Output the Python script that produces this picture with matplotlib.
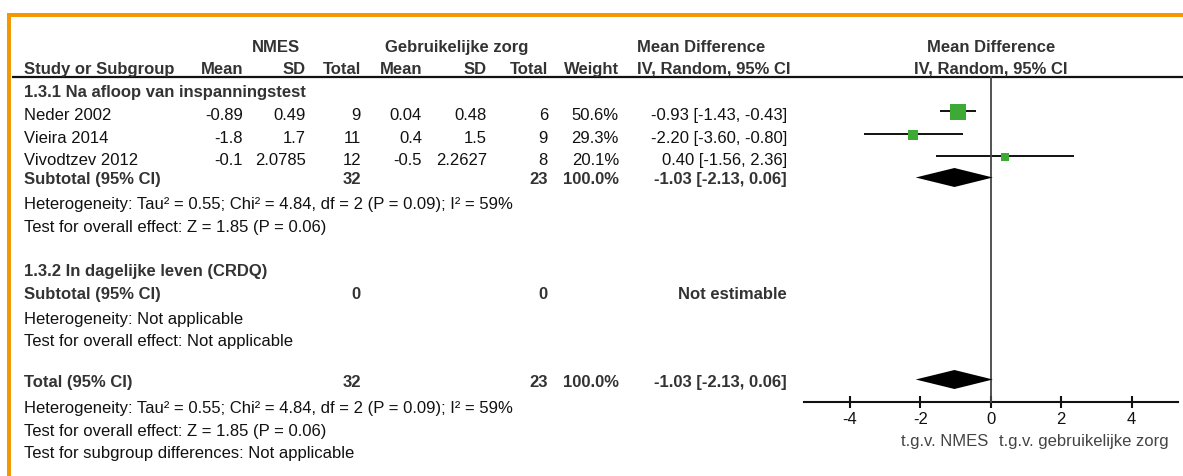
import matplotlib
matplotlib.use("Agg")
import matplotlib.pyplot as plt
from matplotlib.patches import Rectangle

plt.rcParams['font.family'] = ['Liberation Sans', 'DejaVu Sans']

# ---------------- data ----------------
studies = ["Neder 2002", "Vieira 2014", "Vivodtzev 2012"]
nmes_mean = [-0.89, -1.8, -0.1]
nmes_sd = [0.49, 1.7, 2.0785]
nmes_n = [9, 11, 12]
ctrl_mean = [0.04, 0.4, -0.5]
ctrl_sd = [0.48, 1.5, 2.2627]
ctrl_n = [6, 9, 8]
weights = [50.6, 29.3, 20.1]
md = [-0.93, -2.20, 0.40]
ci_lo = [-1.43, -3.60, -1.56]
ci_hi = [-0.43, -0.80, 2.36]
pooled = [-1.03, -2.13, 0.06]   # estimate, lower, upper
sub_n = [32, 23]
sub2_n = [0, 0]
tot_n = [32, 23]
xticks = [-4, -2, 0, 2, 4]
left_label = "t.g.v. NMES"
right_label = "t.g.v. gebruikelijke zorg"
het_text = "Heterogeneity: Tau² = 0.55; Chi² = 4.84, df = 2 (P = 0.09); I² = 59%"
eff_text = "Test for overall effect: Z = 1.85 (P = 0.06)"

# ---------------- figure ----------------
W, H = 1183, 477
fig = plt.figure(figsize=(W / 100, H / 100), dpi=100)
ax0 = fig.add_axes([0, 0, 1, 1])
ax0.set_xlim(0, W)
ax0.set_ylim(H, 0)
ax0.axis('off')

FS = 12
BOLDC = '#333333'
REGC = '#111111'
ORANGE = '#F39800'
GREEN = '#3DAA35'

# orange frame
ax0.add_patch(Rectangle((7, 14), W - 7, 4, color=ORANGE, lw=0))
ax0.add_patch(Rectangle((7, 14), 4, H - 14, color=ORANGE, lw=0))

def txt(x, yc, s, ha='left', bold=False, color=None):
    ax0.text(x, yc + 6, s, ha=ha, va='baseline', fontsize=FS,
             fontweight='bold' if bold else 'normal',
             color=color if color else (BOLDC if bold else REGC))

# column right edges
X_STUDY = 24
X_M1, X_SD1, X_N1 = 243, 306, 361
X_M2, X_SD2, X_N2 = 422, 487, 548
X_W = 619
X_CI = 787
X_CIH = 637

# header
txt(276, 46, "NMES", ha='center', bold=True)
txt(457, 46, "Gebruikelijke zorg", ha='center', bold=True)
txt(X_CIH, 46, "Mean Difference", bold=True)
txt(991, 46, "Mean Difference", ha='center', bold=True)
txt(X_STUDY, 68, "Study or Subgroup", bold=True)
txt(X_M1, 68, "Mean", ha='right', bold=True)
txt(X_SD1, 68, "SD", ha='right', bold=True)
txt(X_N1, 68, "Total", ha='right', bold=True)
txt(X_M2, 68, "Mean", ha='right', bold=True)
txt(X_SD2, 68, "SD", ha='right', bold=True)
txt(X_N2, 68, "Total", ha='right', bold=True)
txt(X_W, 68, "Weight", ha='right', bold=True)
txt(X_CIH, 68, "IV, Random, 95% CI", bold=True)
txt(991, 68, "IV, Random, 95% CI", ha='center', bold=True)
ax0.plot([12, W], [78, 78], color='#111111', lw=1.6, solid_capstyle='butt')

# subgroup 1
txt(X_STUDY, 91, "1.3.1 Na afloop van inspanningstest", bold=True)
row_y = [114, 137, 159]
for i, y in enumerate(row_y):
    txt(X_STUDY, y, studies[i])
    txt(X_M1, y, f"{nmes_mean[i]:g}", ha='right')
    txt(X_SD1, y, f"{nmes_sd[i]:g}", ha='right')
    txt(X_N1, y, f"{nmes_n[i]}", ha='right')
    txt(X_M2, y, f"{ctrl_mean[i]:g}", ha='right')
    txt(X_SD2, y, f"{ctrl_sd[i]:g}", ha='right')
    txt(X_N2, y, f"{ctrl_n[i]}", ha='right')
    txt(X_W, y, f"{weights[i]:.1f}%", ha='right')
    txt(X_CI, y, f"{md[i]:.2f} [{ci_lo[i]:.2f}, {ci_hi[i]:.2f}]", ha='right')

y_sub = 178
txt(X_STUDY, y_sub, "Subtotal (95% CI)", bold=True)
txt(X_N1, y_sub, f"{sub_n[0]}", ha='right', bold=True)
txt(X_N2, y_sub, f"{sub_n[1]}", ha='right', bold=True)
txt(X_W, y_sub, "100.0%", ha='right', bold=True)
txt(X_CI, y_sub, f"{pooled[0]:.2f} [{pooled[1]:.2f}, {pooled[2]:.2f}]", ha='right', bold=True)
txt(X_STUDY, 203, het_text)
txt(X_STUDY, 226, eff_text)

# subgroup 2
txt(X_STUDY, 270, "1.3.2 In dagelijke leven (CRDQ)", bold=True)
txt(X_STUDY, 293, "Subtotal (95% CI)", bold=True)
txt(X_N1, 293, f"{sub2_n[0]}", ha='right', bold=True)
txt(X_N2, 293, f"{sub2_n[1]}", ha='right', bold=True)
txt(X_CI, 293, "Not estimable", ha='right', bold=True)
txt(X_STUDY, 318, "Heterogeneity: Not applicable")
txt(X_STUDY, 340, "Test for overall effect: Not applicable")

# total
y_tot = 381
txt(X_STUDY, y_tot, "Total (95% CI)", bold=True)
txt(X_N1, y_tot, f"{tot_n[0]}", ha='right', bold=True)
txt(X_N2, y_tot, f"{tot_n[1]}", ha='right', bold=True)
txt(X_W, y_tot, "100.0%", ha='right', bold=True)
txt(X_CI, y_tot, f"{pooled[0]:.2f} [{pooled[1]:.2f}, {pooled[2]:.2f}]", ha='right', bold=True)
txt(X_STUDY, 407, het_text)
txt(X_STUDY, 430, eff_text)
txt(X_STUDY, 452, "Test for subgroup differences: Not applicable")

# ---------------- forest axes ----------------
X0, SCALE = 990.7, 35.2   # pixel of zero, pixels per unit
xmin, xmax = -5.3, 5.33
lpx = X0 + SCALE * xmin
rpx = X0 + SCALE * xmax
ax = fig.add_axes([lpx / W, 0, (rpx - lpx) / W, 1])
ax.set_xlim(xmin, xmax)
ax.set_ylim(H, 0)
ax.patch.set_alpha(0)
for s in ['top', 'left', 'right']:
    ax.spines[s].set_visible(False)
Y_AXIS = 403
ax.spines['bottom'].set_position(('data', Y_AXIS))
ax.spines['bottom'].set_linewidth(1.5)
ax.spines['bottom'].set_color('#111111')
ax.set_yticks([])
ax.set_xticks(xticks)
ax.set_xticklabels([f"{t:g}" for t in xticks])
ax.tick_params(axis='x', direction='inout', length=8.5, width=1.5,
               color='#111111', labelsize=FS, pad=2.5, labelcolor='#111111')

# zero line
ax.plot([0, 0], [78, Y_AXIS], color='#444444', lw=1.3, zorder=3)

# studies
for i, y in enumerate(row_y):
    yc = y - 2
    ax.plot([ci_lo[i], ci_hi[i]], [yc, yc], color='#111111', lw=1.4, zorder=2,
            solid_capstyle='butt')
    side_px = 4 + 0.22 * weights[i]
    ax.plot([md[i]], [yc + 0.5], marker='s', linestyle='none',
            markersize=side_px * 0.72, markerfacecolor=GREEN,
            markeredgecolor=GREEN, markeredgewidth=0, zorder=4)

def diamond(yc, est, lo, hi, h=9.5):
    ax.fill([lo, est, hi, est], [yc, yc - h, yc, yc + h], color='black',
            lw=0, zorder=4)

diamond(178.5, pooled[0], pooled[1], pooled[2])
diamond(380.5, pooled[0], pooled[1], pooled[2])

# direction labels
ax0.text(988, 440 + 6, left_label, ha='right', va='baseline', fontsize=FS, color='#444444')
ax0.text(999, 440 + 6, right_label, ha='left', va='baseline', fontsize=FS, color='#444444')

fig.savefig("out.png", dpi=100)
